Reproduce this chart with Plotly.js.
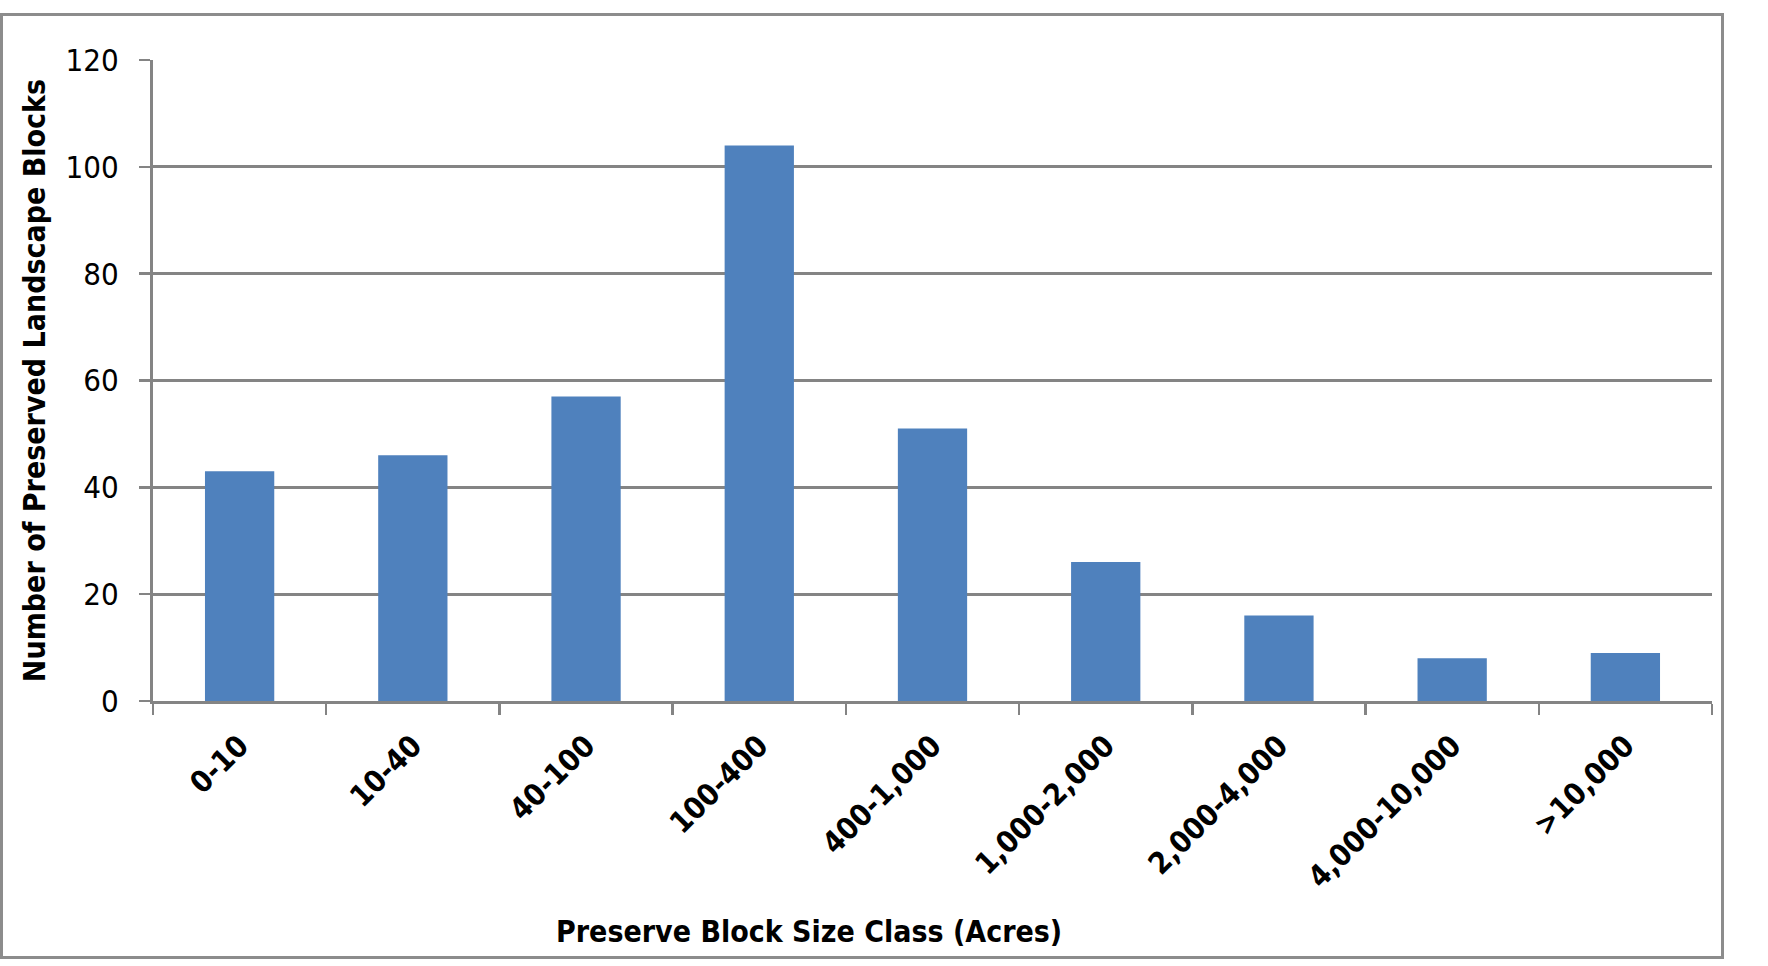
<!DOCTYPE html>
<html>
<head>
<meta charset="utf-8">
<script src="https://cdn.plot.ly/plotly-3.0.1.min.js"></script>
<style>
  html, body { margin: 0; padding: 0; background: #ffffff; }
  #frame { position: absolute; left: 0; top: 13px; width: 1718px; height: 940px; border: 3px solid #8c8c8c; box-sizing: content-box; }
  #chart { position: absolute; left: 0; top: 0; width: 1768px; height: 966px; }
</style>
</head>
<body>
<div id="frame"></div>
<div id="chart"></div>
<script>
const categories = ["0-10", "10-40", "40-100", "100-400", "400-1,000", "1,000-2,000", "2,000-4,000", "4,000-10,000", ">10,000"];
const blockCounts = [43, 46, 57, 104, 51, 26, 16, 8, 9];
const yTickValues = [0, 20, 40, 60, 80, 100, 120];
const xTitleText = "Preserve Block Size Class (Acres)";
const yTitleText = "Number of Preserved Landscape Blocks";

const fontFamily = "'Liberation Sans Narrow', 'DejaVu Sans Condensed', Lato, sans-serif";
const gridColor = "#848484";

const trace = {
  type: "bar",
  x: categories,
  y: blockCounts,
  marker: { color: "#4F81BD", line: { width: 0 } },
  hoverinfo: "x+y"
};

const layout = {
  width: 1768,
  height: 966,
  margin: { l: 153, r: 56, t: 60, b: 265 },
  paper_bgcolor: "rgba(0,0,0,0)",
  plot_bgcolor: "rgba(0,0,0,0)",
  bargap: 0.6,
  showlegend: false,
  font: { family: fontFamily, color: "#000000" },
  xaxis: {
    type: "category",
    tickangle: -45,
    ticks: "outside",
    tickson: "boundaries",
    ticklen: 11,
    tickwidth: 2.5,
    tickcolor: gridColor,
    ticklabelstandoff: 12,
    showline: true,
    linecolor: gridColor,
    linewidth: 3,
    showgrid: false,
    tickfont: { family: fontFamily, size: 30, color: "#000000", weight: "bold" },
    automargin: false,
    fixedrange: true
  },
  yaxis: {
    range: [0, 120],
    tickvals: yTickValues,
    ticktext: yTickValues.map(String),
    ticks: "outside",
    ticklen: 11,
    tickwidth: 2.5,
    tickcolor: gridColor,
    ticklabelstandoff: 14,
    showline: true,
    linecolor: gridColor,
    linewidth: 3,
    showgrid: true,
    gridcolor: gridColor,
    gridwidth: 2.8,
    zeroline: false,
    tickfont: { family: fontFamily, size: 31, color: "#000000" },
    title: { text: yTitleText, font: { family: fontFamily, size: 30, color: "#000000", weight: "bold" }, standoff: 12 },
    automargin: false,
    fixedrange: true
  },
  annotations: [{
    text: xTitleText,
    xref: "paper", yref: "paper",
    x: 0.421, y: -0.359,
    xanchor: "center", yanchor: "middle",
    showarrow: false,
    font: { family: fontFamily, size: 30, color: "#000000", weight: "bold" }
  }]
};

Plotly.newPlot("chart", [trace], layout, { displayModeBar: false, staticPlot: true });
</script>
</body>
</html>
